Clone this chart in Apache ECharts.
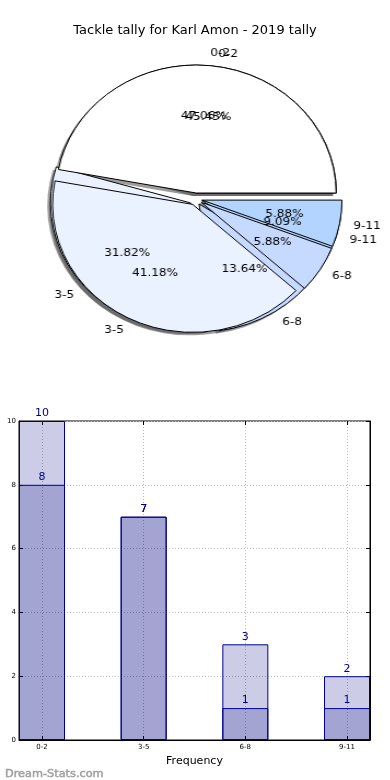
<!DOCTYPE html>
<html>
<head>
<meta charset="utf-8">
<script src="https://cdn.jsdelivr.net/npm/echarts@6/dist/echarts.min.js"></script>
<style>
html,body{margin:0;padding:0;background:#fff}
#wrap{position:relative;width:390px;height:780px;overflow:hidden}
#c{position:absolute;left:0;top:0;width:390px;height:780px}
#p{position:absolute;left:0;top:0;width:356.5px;height:380px;transform:scaleX(1.094);transform-origin:0 0}
</style>
</head>
<body>
<div id="wrap"><div id="c"></div><div id="p"></div></div>
<script>
const chartTitle = 'Tackle tally for Karl Amon - 2019 tally';
const categories = ['0-2', '3-5', '6-8', '9-11'];
const tallyA = [10, 7, 3, 2];
const tallyB = [8, 7, 1, 1];
const sliceColors = ['#ffffff', '#ebf2ff', '#c6d9ff', '#b3d4ff'];
const yTicks = [0, 2, 4, 6, 8, 10];
const xAxisName = 'Frequency';
const watermark = 'Dream-Stats.com';

const FONT = 'DejaVu Sans';
const SX = 1.094;
const CX = 195.5 / SX, CY = 199, R = 128, EXPL = 6;

function pieData(vals, withColor) {
  return vals.map((v, i) => ({
    name: categories[i], value: v, selected: true,
    itemStyle: withColor ? { color: sliceColors[i] } : undefined
  }));
}
const pieBase = {
  type: 'pie', startAngle: 0, clockwise: false, selectedMode: 'multiple',
  selectedOffset: EXPL, avoidLabelOverlap: false, animation: false,
  emphasis: { disabled: true }, percentPrecision: 2,
  labelLayout: { hideOverlap: false }
};
function shadowPie(vals) {
  return Object.assign({}, pieBase, {
    center: [CX - 3, CY + 3], radius: [0, R], silent: true,
    data: pieData(vals, false),
    itemStyle: { color: 'rgba(60,60,60,0.5)', borderWidth: 0 },
    select: { itemStyle: { color: 'rgba(60,60,60,0.5)', borderWidth: 0 } },
    label: { show: false }, labelLine: { show: false }
  });
}
function mainPie(vals) {
  return Object.assign({}, pieBase, {
    center: [CX, CY], radius: [0, R], silent: true,
    data: pieData(vals, true),
    itemStyle: { borderColor: '#000', borderWidth: 1 },
    select: { itemStyle: { borderColor: '#000', borderWidth: 1 } },
    label: { show: true, position: 'outside', formatter: '{b}', fontFamily: FONT, fontSize: 11, color: '#000', distanceToLabelLine: 0 },
    labelLine: { show: false, length: 0.1 * R, length2: 0 }
  });
}
function pctPie(vals) {
  return Object.assign({}, pieBase, {
    center: [CX, CY], radius: [0, 1.2 * R], silent: true, z: 5,
    selectedOffset: EXPL / 2,
    data: pieData(vals, false),
    itemStyle: { color: 'rgba(0,0,0,0)', borderWidth: 0 },
    select: { itemStyle: { color: 'rgba(0,0,0,0)', borderWidth: 0 } },
    label: { show: true, position: 'inside', formatter: '{d}%', fontFamily: FONT, fontSize: 11, color: '#000' },
    labelLine: { show: false }
  });
}

const dotted = { color: '#bbbbbb', type: [1, 2], width: 1 };
const barLabel = { show: true, position: 'top', distance: 2, fontFamily: FONT, fontSize: 11, color: '#00008b' };

const option = {
  animation: false,
  title: [
    { text: chartTitle, left: 'center', top: 19, textStyle: { fontFamily: FONT, fontSize: 13, fontWeight: 'normal', color: '#000' } },
    { text: watermark, left: 0, top: 764, textStyle: { fontFamily: FONT, fontSize: 11.3, fontWeight: 'normal', color: '#a0a0a0', textBorderColor: '#a0a0a0', textBorderWidth: 0.5 } }
  ],
  grid: [
    { left: 19, right: 20, top: 421, bottom: 40, show: true, borderColor: '#000', borderWidth: 1, backgroundColor: 'transparent' },
    { left: 42, right: 43, top: 421, bottom: 40 }
  ],
  xAxis: [
    { gridIndex: 0, type: 'value', min: 0, max: 1, axisLabel: { show: false }, axisTick: { show: false }, splitLine: { show: false },
      axisLine: { show: true, lineStyle: { color: '#000' } },
      name: xAxisName, nameLocation: 'middle', nameGap: 16, nameTextStyle: { fontFamily: FONT, fontSize: 11, color: '#000' } },
    { gridIndex: 1, type: 'category', data: categories, boundaryGap: false, position: 'bottom',
      axisLine: { show: false }, axisTick: { show: true, inside: true, length: 4, lineStyle: { color: '#000' } },
      axisLabel: { fontFamily: FONT, fontSize: 7, color: '#000', margin: 4 },
      splitLine: { show: true, lineStyle: dotted } },
    { gridIndex: 1, type: 'category', data: categories, boundaryGap: false, position: 'top',
      axisLine: { show: false }, axisTick: { show: true, inside: true, length: 4, lineStyle: { color: '#000' } },
      axisLabel: { show: false }, splitLine: { show: false } }
  ],
  yAxis: [
    { gridIndex: 0, type: 'value', min: yTicks[0], max: yTicks[yTicks.length - 1], interval: yTicks[1] - yTicks[0],
      axisLine: { show: true, lineStyle: { color: '#000' } }, axisTick: { show: true, inside: true, length: 4, lineStyle: { color: '#000' } },
      axisLabel: { fontFamily: FONT, fontSize: 7, color: '#000', margin: 3 },
      splitLine: { show: true, lineStyle: dotted } },
    { gridIndex: 0, type: 'value', position: 'right', min: yTicks[0], max: yTicks[yTicks.length - 1], interval: yTicks[1] - yTicks[0],
      axisLine: { show: true, lineStyle: { color: '#000' } }, axisTick: { show: true, inside: true, length: 4, lineStyle: { color: '#000' } },
      axisLabel: { show: false }, splitLine: { show: false } },
    { gridIndex: 1, type: 'value', min: yTicks[0], max: yTicks[yTicks.length - 1], show: false }
  ],
  series: [
    { type: 'bar', xAxisIndex: 1, yAxisIndex: 2, data: tallyA, barWidth: 46, barGap: '-100%', clip: false,
      itemStyle: { color: 'rgba(0,0,128,0.2)', borderColor: '#00008b', borderWidth: 1 }, label: barLabel, silent: true },
    { type: 'bar', xAxisIndex: 1, yAxisIndex: 2, data: tallyB, barWidth: 46, barGap: '-100%', clip: false,
      itemStyle: { color: 'rgba(0,0,128,0.2)', borderColor: '#00008b', borderWidth: 1 }, label: barLabel, silent: true }
  ]
};
const chart = echarts.init(document.getElementById('c'), null, { renderer: 'canvas' });
chart.setOption(option);

const pieOption = {
  animation: false,
  series: [
    shadowPie(tallyA), shadowPie(tallyB),
    mainPie(tallyA), mainPie(tallyB),
    pctPie(tallyA), pctPie(tallyB)
  ]
};
const pieChart = echarts.init(document.getElementById('p'), null, { renderer: 'canvas' });
pieChart.setOption(pieOption);
</script>
</body>
</html>
